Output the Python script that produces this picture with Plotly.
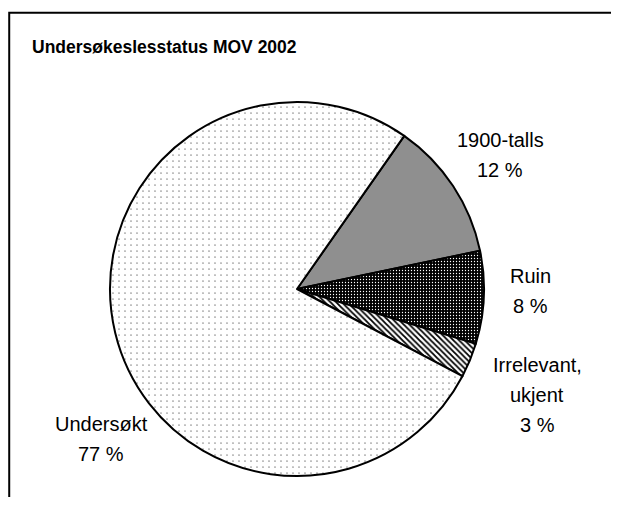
import plotly.graph_objects as go

# the page body adds an 8px margin, so the figure is drawn from (8, 8)
OFF = 8
W, H = 611, 489
FONT = "Liberation Sans, Arial, sans-serif"

# data
labels = ["1900-talls", "Ruin", "Irrelevant,\nukjent", "Undersøkt"]
values = [12, 8, 3, 77]

# label placement (window px: centre x, first baseline y)
label_pos = [(500, 147), (530, 283), (537, 372), (101, 431)]
LINE_GAP = 30

def px_x(x):
    return (x - OFF) / W

def px_y(y):
    return 1 - (y - OFF) / H

patterns = [
    dict(shape=".", size=2, solidity=0.5, fgcolor="#000000", bgcolor="#ffffff"),
    dict(shape=".", size=3, solidity=0.15, fgcolor="#ffffff", bgcolor="#000000"),
    dict(shape="\\", size=4, solidity=0.45, fgcolor="#000000", bgcolor="#ffffff"),
    dict(shape=".", size=6, solidity=0.03, fgcolor="#000000", bgcolor="#ffffff"),
]

fig = go.Figure()
fig.add_trace(go.Pie(
    labels=labels, values=values, sort=False, direction="clockwise", rotation=35,
    textinfo="none", hoverinfo="label+percent", showlegend=False,
    marker=dict(colors=[p["bgcolor"] for p in patterns],
                line=dict(color="black", width=2),
                pattern=dict(shape=[p["shape"] for p in patterns],
                             size=[p["size"] for p in patterns],
                             solidity=[p["solidity"] for p in patterns],
                             fgcolor=[p["fgcolor"] for p in patterns],
                             bgcolor=[p["bgcolor"] for p in patterns],
                             fillmode="replace")),
    domain=dict(x=[px_x(110), px_x(484)], y=[px_y(476), px_y(102)]),
))

annotations = []
for lab, val, (cx, by) in zip(labels, values, label_pos):
    lines = lab.split("\n") + [f"{val} %"]
    for i, line in enumerate(lines):
        annotations.append(dict(
            text=line, x=px_x(cx), y=px_y(by + i * LINE_GAP - 7),
            xref="paper", yref="paper", xanchor="center", yanchor="middle",
            showarrow=False, font=dict(family=FONT, size=20, color="black")))

annotations.append(dict(
    text="<b>Undersøkeslesstatus MOV 2002</b>", x=px_x(30), y=px_y(47),
    xref="paper", yref="paper", xanchor="left", yanchor="middle",
    showarrow=False, font=dict(family=FONT, size=17.5, color="black")))

fig.update_layout(
    width=W, height=H, margin=dict(l=0, r=0, t=0, b=0),
    paper_bgcolor="white", plot_bgcolor="white",
    annotations=annotations,
    shapes=[dict(type="rect", xref="paper", yref="paper",
                 x0=px_x(8) + 0.002, y0=-0.1, x1=1.1, y1=px_y(12.7),
                 line=dict(color="black", width=2))],
)

fig.write_html("out.html")
